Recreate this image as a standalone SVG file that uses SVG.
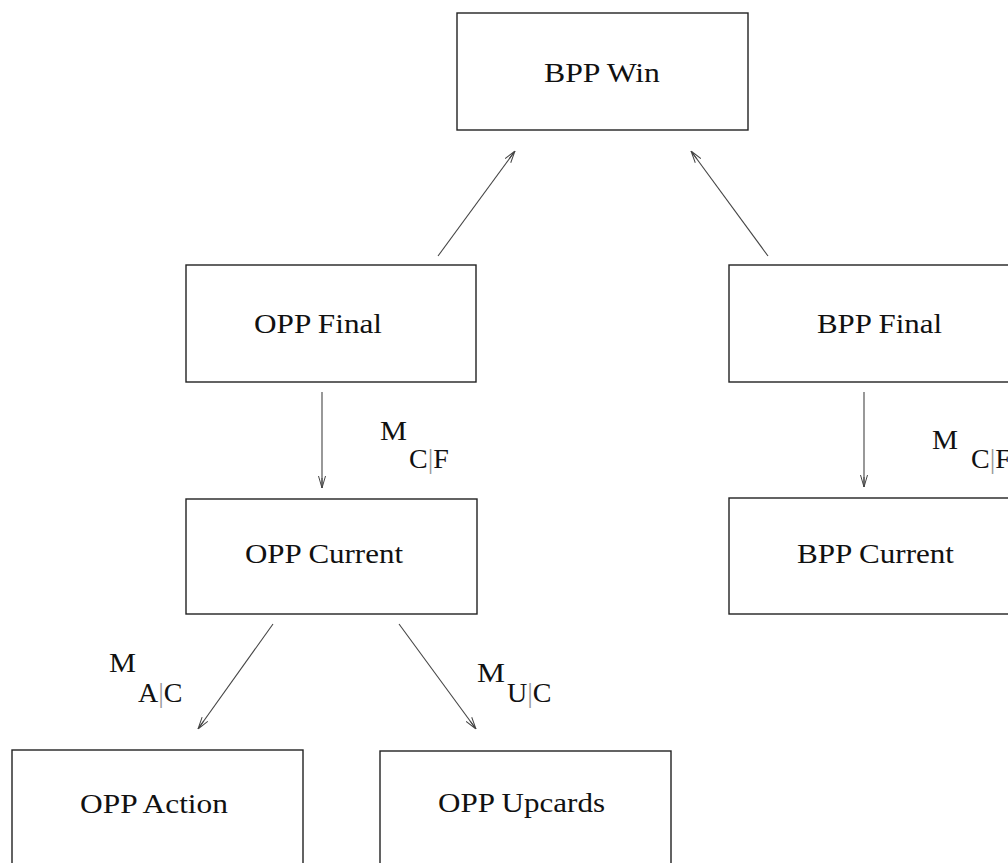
<svg xmlns="http://www.w3.org/2000/svg" width="1008" height="863" viewBox="0 0 1008 863">
<style>
.box{fill:#fff;stroke:#222;stroke-width:1.4}
text{font-size:28px;fill:#111}
.bar{fill:#999}
.edge{stroke:#444;stroke-width:1.1;fill:none;marker-end:url(#arr)}
</style>
<defs>
<marker id="arr" viewBox="0 0 12 8" refX="12" refY="4" markerWidth="12" markerHeight="8" markerUnits="userSpaceOnUse" orient="auto">
<path d="M0,0.5 L12,4 L0,7.5 M2,4 L12,4" fill="none" stroke="#444" stroke-width="1"/>
</marker>
</defs>
<rect width="1008" height="863" fill="#fff"/>
<g id="connectors">
<line class="edge" x1="438" y1="256" x2="515" y2="151"/>
<line class="edge" x1="768" y1="256" x2="691" y2="151"/>
<line class="edge" x1="322" y1="392" x2="322" y2="488"/>
<line class="edge" x1="864" y1="392" x2="864" y2="487"/>
<line class="edge" x1="273" y1="624" x2="198" y2="729"/>
<line class="edge" x1="399" y1="624" x2="476" y2="729"/>
</g>
<g id="bpp-win">
<rect class="box" x="457" y="13" width="291" height="117"/>
<text font-family="Times New Roman, Liberation Serif, DejaVu Serif, serif" x="544" y="82" textLength="116" lengthAdjust="spacingAndGlyphs">BPP Win</text>
</g>
<g id="opp-final">
<rect class="box" x="186" y="265" width="290" height="117"/>
<text font-family="Times New Roman, Liberation Serif, DejaVu Serif, serif" x="254" y="333" textLength="128" lengthAdjust="spacingAndGlyphs">OPP Final</text>
</g>
<g id="bpp-final">
<rect class="box" x="729" y="265" width="291" height="117"/>
<text font-family="Times New Roman, Liberation Serif, DejaVu Serif, serif" x="817" y="333" textLength="125" lengthAdjust="spacingAndGlyphs">BPP Final</text>
</g>
<g id="opp-current">
<rect class="box" x="186" y="499" width="291" height="115"/>
<text font-family="Times New Roman, Liberation Serif, DejaVu Serif, serif" x="245" y="563" textLength="158" lengthAdjust="spacingAndGlyphs">OPP Current</text>
</g>
<g id="bpp-current">
<rect class="box" x="729" y="498" width="291" height="116"/>
<text font-family="Times New Roman, Liberation Serif, DejaVu Serif, serif" x="797" y="563" textLength="157" lengthAdjust="spacingAndGlyphs">BPP Current</text>
</g>
<g id="opp-action">
<rect class="box" x="12" y="750" width="291" height="130"/>
<text font-family="Times New Roman, Liberation Serif, DejaVu Serif, serif" x="80" y="813" textLength="148" lengthAdjust="spacingAndGlyphs">OPP Action</text>
</g>
<g id="opp-upcards">
<rect class="box" x="380" y="751" width="291" height="130"/>
<text font-family="Times New Roman, Liberation Serif, DejaVu Serif, serif" x="438" y="812" textLength="167" lengthAdjust="spacingAndGlyphs">OPP Upcards</text>
</g>
<g id="labels" font-family="Times New Roman, Liberation Serif, DejaVu Serif, serif">
<text x="380" y="440" textLength="27" lengthAdjust="spacingAndGlyphs">M</text>
<text x="409" y="468">C<tspan class="bar">|</tspan>F</text>
<text x="932" y="449" textLength="26" lengthAdjust="spacingAndGlyphs">M</text>
<text x="971" y="468">C<tspan class="bar">|</tspan>F</text>
<text x="109" y="672" textLength="27" lengthAdjust="spacingAndGlyphs">M</text>
<text x="138" y="702">A<tspan class="bar">|</tspan>C</text>
<text x="477" y="682" textLength="28" lengthAdjust="spacingAndGlyphs">M</text>
<text x="507" y="702">U<tspan class="bar">|</tspan>C</text>
</g>
</svg>
